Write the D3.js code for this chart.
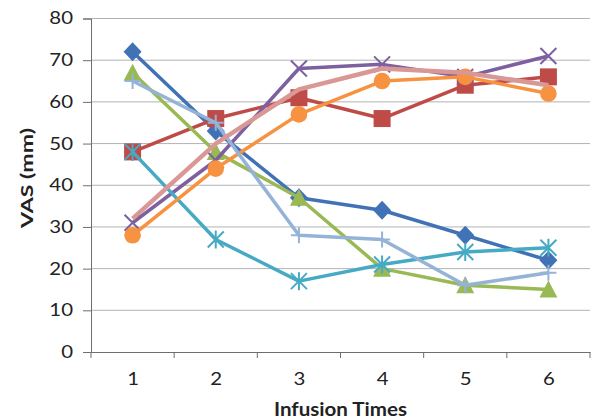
<!DOCTYPE html>
<html>
<head>
<meta charset="utf-8">
<script src="https://cdn.jsdelivr.net/npm/d3@7"></script>
<style>
  body { margin: 0; background: #fff; }
  text { font-family: Lato, "Liberation Sans", sans-serif; }
</style>
</head>
<body>
<div id="chart"></div>
<script>
// infusion times on the x axis
var times = ["1", "2", "3", "4", "5", "6"];
var yTicks = [0, 10, 20, 30, 40, 50, 60, 70, 80];

// one array per patient line, VAS values
var blueDiamond = [72, 53, 37, 34, 28, 22];
var redSquare = [48, 56, 61, 56, 64, 66];
var greenTriangle = [67, 48, 37, 20, 16, 15];
var purpleCross = [31, 46, 68, 69, 66, 71];
var tealStar = [48, 27, 17, 21, 24, 25];
var orangeCircle = [28, 44, 57, 65, 66, 62];
var lightBluePlus = [65, 55, 28, 27, 16, 19];
var pinkLine = [32, 50, 63, 68, 67, 64];

// drawn in this order, the last one ends up on top
var series = [
  {vals: blueDiamond, color: "#4072B5", marker: "diamond", w: 3.5},
  {vals: redSquare, color: "#BE4B48", marker: "square", w: 3.5},
  {vals: greenTriangle, color: "#98B954", marker: "triangle", w: 3.5},
  {vals: purpleCross, color: "#7D60A0", marker: "x", w: 3.5},
  {vals: tealStar, color: "#46AAC5", marker: "star", w: 3.5},
  {vals: orangeCircle, color: "#F69240", marker: "circle", w: 3.5},
  {vals: lightBluePlus, color: "#95B3D7", marker: "plus", w: 3.5},
  {vals: pinkLine, color: "#D99795", marker: "none", w: 4.5}
];

var W = 592, H = 420;
var plotLeft = 91, plotRight = 590, plotTop = 18.5, plotBottom = 352;

var svg = d3.select("#chart").append("svg")
  .attr("width", W).attr("height", H);

var x = d3.scalePoint().domain(times).range([plotLeft, plotRight]).padding(0.5);
var y = d3.scaleLinear().domain([0, 80]).range([plotBottom, plotTop]);

// gridlines
svg.append("g").selectAll("line").data(yTicks.slice(1)).enter().append("line")
  .attr("x1", plotLeft).attr("x2", plotRight)
  .attr("y1", function(d){ return y(d); }).attr("y2", function(d){ return y(d); })
  .attr("stroke", "#b3b3b3").attr("stroke-width", 1);

// y axis
var yAxis = svg.append("g").attr("transform", "translate(" + plotLeft + ",0)")
  .call(d3.axisLeft(y).tickValues(yTicks).tickSize(8).tickPadding(10));
yAxis.select(".domain").attr("stroke", "#6e6e6e");
yAxis.selectAll(".tick line").attr("stroke", "#6e6e6e");
yAxis.selectAll("text").attr("font-size", 17).attr("fill", "#222")
  .style("font-family", "Lato, sans-serif")
  .attr("transform", "translate(-18,0) scale(1.2,1) translate(18,0)");

// x axis, ticks sit between the categories
var xAxis = svg.append("g").attr("transform", "translate(0," + plotBottom + ")")
  .call(d3.axisBottom(x).tickSize(0).tickPadding(21));
xAxis.select(".domain").attr("stroke", "#6e6e6e");
xAxis.selectAll("text").attr("font-size", 17).attr("fill", "#222")
  .style("font-family", "Lato, sans-serif")
  .attr("transform", "scale(1.2,1)");
var step = x.step();
svg.append("g").selectAll("line").data(d3.range(times.length + 1)).enter().append("line")
  .attr("x1", function(i){ return plotLeft + i * step; })
  .attr("x2", function(i){ return plotLeft + i * step; })
  .attr("y1", plotBottom).attr("y2", plotBottom + 6)
  .attr("stroke", "#6e6e6e");

// axis titles
svg.append("text")
  .attr("transform", "translate(33,178) rotate(-90)")
  .attr("text-anchor", "middle")
  .attr("font-size", 17).attr("font-weight", "bold").attr("fill", "#222")
  .attr("textLength", 100).attr("lengthAdjust", "spacingAndGlyphs")
  .text("VAS (mm)");
svg.append("text")
  .attr("x", (plotLeft + plotRight) / 2).attr("y", 416)
  .attr("text-anchor", "middle")
  .attr("font-size", 19).attr("font-weight", "bold").attr("fill", "#222")
  .attr("textLength", 133).attr("lengthAdjust", "spacingAndGlyphs")
  .text("Infusion Times");

var line = d3.line()
  .x(function(d, i){ return x(times[i]); })
  .y(function(d){ return y(d); });

function drawMarker(g, kind, color, cx, cy) {
  if (kind == "square") {
    g.append("rect").attr("x", cx - 8.5).attr("y", cy - 8.5)
      .attr("width", 17).attr("height", 17).attr("fill", color);
  } else if (kind == "circle") {
    g.append("circle").attr("cx", cx).attr("cy", cy).attr("r", 8.3).attr("fill", color);
  } else if (kind == "diamond") {
    g.append("path").attr("d", "M" + cx + "," + (cy - 9.5) + "L" + (cx + 9) + "," + cy +
      "L" + cx + "," + (cy + 9.5) + "L" + (cx - 9) + "," + cy + "Z").attr("fill", color);
  } else if (kind == "triangle") {
    g.append("path").attr("d", "M" + cx + "," + (cy - 9) + "L" + (cx + 9) + "," + (cy + 8) +
      "L" + (cx - 9) + "," + (cy + 8) + "Z").attr("fill", color);
  } else if (kind == "x") {
    g.append("path").attr("d", "M" + (cx - 8) + "," + (cy - 8) + "L" + (cx + 8) + "," + (cy + 8) +
      "M" + (cx + 8) + "," + (cy - 8) + "L" + (cx - 8) + "," + (cy + 8))
      .attr("stroke", color).attr("stroke-width", 2);
  } else if (kind == "plus") {
    g.append("path").attr("d", "M" + (cx - 8) + "," + cy + "L" + (cx + 8) + "," + cy +
      "M" + cx + "," + (cy - 8) + "L" + cx + "," + (cy + 8))
      .attr("stroke", color).attr("stroke-width", 2);
  } else if (kind == "star") {
    g.append("path").attr("d", "M" + (cx - 8) + "," + (cy - 8) + "L" + (cx + 8) + "," + (cy + 8) +
      "M" + (cx + 8) + "," + (cy - 8) + "L" + (cx - 8) + "," + (cy + 8) +
      "M" + cx + "," + (cy - 9) + "L" + cx + "," + (cy + 9))
      .attr("stroke", color).attr("stroke-width", 2);
  }
}

for (var i = 0; i < series.length; i++) {
  var s = series[i];
  var g = svg.append("g");
  g.append("path").datum(s.vals).attr("d", line)
    .attr("fill", "none").attr("stroke", s.color)
    .attr("stroke-width", s.w).attr("stroke-linejoin", "round");
  for (var j = 0; j < s.vals.length; j++) {
    drawMarker(g, s.marker, s.color, x(times[j]), y(s.vals[j]));
  }
}
</script>
</body>
</html>
